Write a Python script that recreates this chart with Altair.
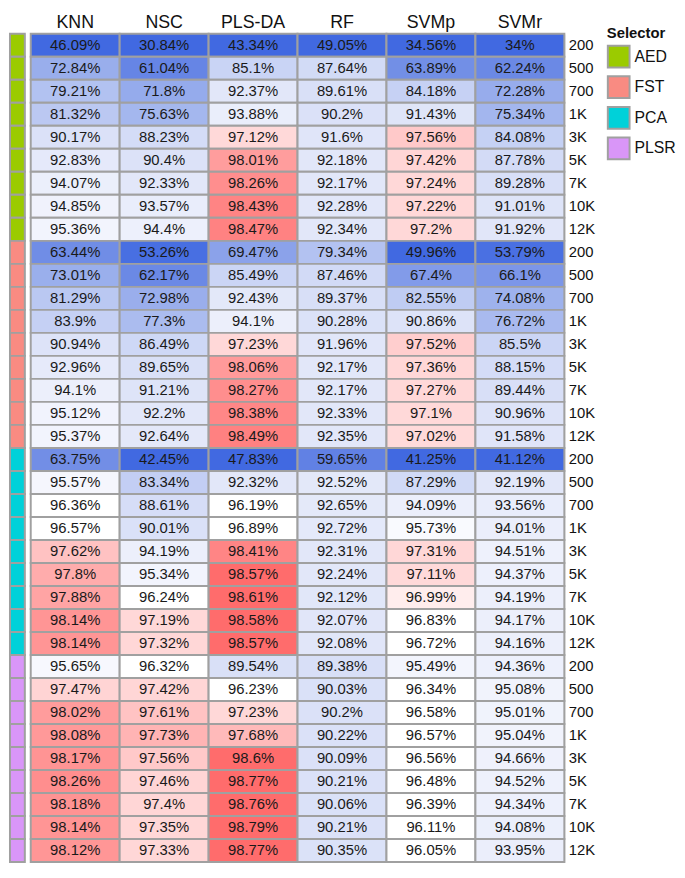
import altair as alt
import pandas as pd

methods = ["KNN", "NSC", "PLS-DA", "RF", "SVMp", "SVMr"]
selectors = ["AED", "FST", "PCA", "PLSR"]
sizes = ["200", "500", "700", "1K", "3K", "5K", "7K", "10K", "12K"]
selector_colors = ["#9BCB00", "#F98B82", "#00D1D9", "#D996F8"]

aed = [
    [46.09, 30.84, 43.34, 49.05, 34.56, 34],
    [72.84, 61.04, 85.1, 87.64, 63.89, 62.24],
    [79.21, 71.8, 92.37, 89.61, 84.18, 72.28],
    [81.32, 75.63, 93.88, 90.2, 91.43, 75.34],
    [90.17, 88.23, 97.12, 91.6, 97.56, 84.08],
    [92.83, 90.4, 98.01, 92.18, 97.42, 87.78],
    [94.07, 92.33, 98.26, 92.17, 97.24, 89.28],
    [94.85, 93.57, 98.43, 92.28, 97.22, 91.01],
    [95.36, 94.4, 98.47, 92.34, 97.2, 91.92],
]
fst = [
    [63.44, 53.26, 69.47, 79.34, 49.96, 53.79],
    [73.01, 62.17, 85.49, 87.46, 67.4, 66.1],
    [81.29, 72.98, 92.43, 89.37, 82.55, 74.08],
    [83.9, 77.3, 94.1, 90.28, 90.86, 76.72],
    [90.94, 86.49, 97.23, 91.96, 97.52, 85.5],
    [92.96, 89.65, 98.06, 92.17, 97.36, 88.15],
    [94.1, 91.21, 98.27, 92.17, 97.27, 89.44],
    [95.12, 92.2, 98.38, 92.33, 97.1, 90.96],
    [95.37, 92.64, 98.49, 92.35, 97.02, 91.58],
]
pca = [
    [63.75, 42.45, 47.83, 59.65, 41.25, 41.12],
    [95.57, 83.34, 92.32, 92.52, 87.29, 92.19],
    [96.36, 88.61, 96.19, 92.65, 94.09, 93.56],
    [96.57, 90.01, 96.89, 92.72, 95.73, 94.01],
    [97.62, 94.19, 98.41, 92.31, 97.31, 94.51],
    [97.8, 95.34, 98.57, 92.24, 97.11, 94.37],
    [97.88, 96.24, 98.61, 92.12, 96.99, 94.19],
    [98.14, 97.19, 98.58, 92.07, 96.83, 94.17],
    [98.14, 97.32, 98.57, 92.08, 96.72, 94.16],
]
plsr = [
    [95.65, 96.32, 89.54, 89.38, 95.49, 94.36],
    [97.47, 97.42, 96.23, 90.03, 96.34, 95.08],
    [98.02, 97.61, 97.23, 90.2, 96.58, 95.01],
    [98.08, 97.73, 97.68, 90.22, 96.57, 95.04],
    [98.17, 97.56, 98.6, 90.09, 96.56, 94.66],
    [98.26, 97.46, 98.77, 90.21, 96.48, 94.52],
    [98.18, 97.4, 98.76, 90.06, 96.39, 94.34],
    [98.14, 97.35, 98.79, 90.21, 96.11, 94.08],
    [98.12, 97.33, 98.77, 90.35, 96.05, 93.95],
]

color_domain = [50, 54, 62, 72.5, 85.5, 92.3, 95.5, 96.0, 96.98, 97.0, 97.45, 97.85, 98.3, 98.5, 98.56]
color_range = ["#4169E1", "#4A70E2", "#6A88E5", "#98ADEC", "#CBD5F5", "#E2E7F9", "#F3F5FD",
               "#FFFFFF", "#FFFFFF", "#FFDADA", "#FFD6D6", "#FFA6A6", "#FF8C8C", "#FF8080", "#FF6C6C"]

rows = []
strip_rows = []
for sel, mat in zip(selectors, [aed, fst, pca, plsr]):
    for size, vals in zip(sizes, mat):
        key = f"{sel}|{size}"
        strip_rows.append(dict(row=key, selector=sel))
        for m, v in zip(methods, vals):
            rows.append(dict(row=key, selector=sel, size=size, method=m, value=v, label=f"{v:g}%"))
df = pd.DataFrame(rows)
strip_df = pd.DataFrame(strip_rows)
order = [f"{s}|{z}" for s in selectors for z in sizes]

GRID = "#A0A0A0"
FONT = "Liberation Sans"
H = 838

base = alt.Chart(df).encode(
    x=alt.X("method:N", sort=methods,
            scale=alt.Scale(paddingInner=0, paddingOuter=0),
            axis=alt.Axis(orient="top", title=None, labelAngle=0, ticks=False, domain=False,
                          labelFontSize=18, labelPadding=2, labelColor="#111111", labelFont=FONT)),
    y=alt.Y("row:N", sort=order,
            scale=alt.Scale(paddingInner=0, paddingOuter=0),
            axis=alt.Axis(orient="right", title=None, ticks=False, domain=False,
                          labelExpr="split(datum.value, '|')[1]", labelFontSize=15,
                          labelPadding=4, labelColor="#111111", labelFont=FONT)),
)
rect = base.mark_rect(stroke=GRID, strokeWidth=2).encode(
    color=alt.Color("value:Q",
                    scale=alt.Scale(domain=color_domain, range=color_range, interpolate="rgb", clamp=True),
                    legend=None)
)
text = base.mark_text(fontSize=15, color="#1a1a1a", font=FONT).encode(text="label:N")
heat = (rect + text).properties(width=540, height=H)

strip = alt.Chart(strip_df).mark_rect(stroke=GRID, strokeWidth=2).encode(
    y=alt.Y("row:N", sort=order, axis=None, scale=alt.Scale(paddingInner=0, paddingOuter=0)),
    color=alt.Color("selector:N",
                    scale=alt.Scale(domain=selectors, range=selector_colors),
                    legend=alt.Legend(title="Selector", symbolType="square", symbolSize=484,
                                      symbolStrokeColor=GRID, symbolStrokeWidth=2,
                                      symbolOpacity=1, titleFontSize=15, titleFontWeight="bold",
                                      titleFont=FONT, labelFont=FONT, labelFontSize=16,
                                      titleColor="#111111", labelColor="#111111",
                                      rowPadding=1, titlePadding=4,
                                      orient="none", legendX=604, legendY=-8)),
).properties(width=15, height=H)

chart = alt.hconcat(strip, heat, spacing=6, bounds="flush").resolve_scale(
    color="independent", y="independent"
).properties(
    padding={"left": 0, "top": 0, "right": 0, "bottom": 0}
).configure_view(stroke=None).configure(font=FONT)

chart.save("out.html", embed_options={"renderer": "svg", "actions": False})
